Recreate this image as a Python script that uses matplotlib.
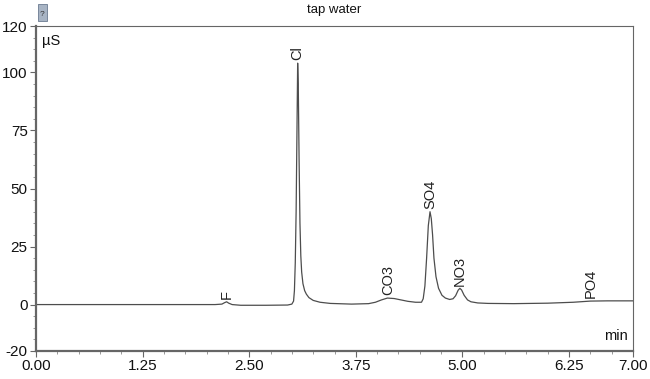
import matplotlib
matplotlib.use("Agg")
import matplotlib.pyplot as plt
from matplotlib.ticker import MultipleLocator, FixedLocator, FormatStrFormatter
from matplotlib.patches import Rectangle

plt.rcParams['font.family'] = ['Liberation Sans', 'DejaVu Sans']
plt.rcParams['axes.unicode_minus'] = False

# Chromatogram trace (time in min, signal in µS)
time_min = [0.00, 1.00, 2.10, 2.18, 2.21, 2.235, 2.26, 2.30, 2.40, 2.70, 2.95,
            3.00, 3.02, 3.03, 3.04, 3.05, 3.06, 3.068, 3.075, 3.085, 3.095, 3.105,
            3.115, 3.13, 3.15, 3.17, 3.20, 3.25, 3.33, 3.45, 3.70, 3.90, 3.98,
            4.05, 4.12, 4.20, 4.28, 4.36, 4.45, 4.52, 4.54, 4.56, 4.58, 4.60,
            4.62, 4.635, 4.65, 4.666, 4.69, 4.72, 4.76, 4.80, 4.85, 4.89, 4.92,
            4.95, 4.97, 4.99, 5.02, 5.06, 5.10, 5.18, 5.30, 5.60, 6.00, 6.30,
            6.50, 6.70, 7.00]
signal_uS = [0.0, 0.0, 0.0, 0.2, 0.8, 1.2, 0.6, 0.0, -0.3, -0.3, -0.2,
             0.2, 1.5, 6.0, 18.0, 40.0, 75.0, 104.0, 95.0, 62.0, 35.0, 21.0,
             14.0, 9.0, 6.0, 4.5, 3.0, 1.8, 1.0, 0.5, 0.2, 0.4, 1.0,
             2.0, 2.8, 2.6, 2.0, 1.4, 1.0, 1.0, 2.5, 8.0, 20.0, 34.0,
             40.0, 37.0, 30.0, 20.0, 12.0, 7.0, 4.0, 2.8, 2.2, 2.5, 3.8,
             6.2, 7.0, 6.3, 4.0, 2.0, 1.2, 0.7, 0.5, 0.4, 0.6, 1.0,
             1.5, 1.6, 1.6]

# Peak labels
peak_names = ["F", "Cl", "CO3", "SO4", "NO3", "PO4"]
peak_times = [2.235, 3.068, 4.13, 4.62, 4.97, 6.51]
peak_heights = [1.2, 104.0, 2.8, 40.0, 7.0, 1.5]

x_ticks = [0.00, 1.25, 2.50, 3.75, 5.00, 6.25, 7.00]
y_ticks = [-20, 0, 25, 50, 75, 100, 120]

fig = plt.figure(figsize=(6.5, 3.79), dpi=100)
ax = fig.add_axes([36/650, 28/379, 597/650, 325/379])

line_col = "#4d4d4d"
ax.plot(time_min, signal_uS, color=line_col, lw=0.9)

for name, t, h in zip(peak_names, peak_times, peak_heights):
    ax.annotate(name, xy=(t, h), xytext=(0, 2), textcoords="offset points",
                rotation=90, ha="center", va="bottom", fontsize=10.5, color="#222222")

ax.set_xlim(0, 7)
ax.set_ylim(-20, 120)
ax.xaxis.set_major_locator(FixedLocator(x_ticks))
ax.xaxis.set_major_formatter(FormatStrFormatter("%.2f"))
ax.xaxis.set_minor_locator(MultipleLocator(0.25))
ax.yaxis.set_major_locator(FixedLocator(y_ticks))
ax.yaxis.set_minor_locator(MultipleLocator(5))

ax.tick_params(axis="both", which="major", direction="out", length=4, width=0.8,
               color="#666666", labelsize=11, labelcolor="#111111", pad=2)
ax.tick_params(axis="both", which="minor", direction="out", length=2, width=0.6,
               color="#888888")

for s in ax.spines.values():
    s.set_color("#666666")
    s.set_linewidth(0.8)
ax.spines["left"].set_linewidth(1.6)
ax.spines["bottom"].set_linewidth(1.6)

ax.text(0.01, 0.975, "µS", transform=ax.transAxes, ha="left", va="top",
        fontsize=10.5, color="#111111")
ax.text(0.992, 0.025, "min", transform=ax.transAxes, ha="right", va="bottom",
        fontsize=10.5, color="#111111")

fig.text(334/650, 1 - 10/379, "tap water", ha="center", va="center",
         fontsize=9.5, color="#111111")

# small icon at top-left
fig.patches.append(Rectangle((38/650, 1 - 21/379), 9/650, 17/379,
                             transform=fig.transFigure, facecolor="#a8b4c4",
                             edgecolor="#6a7a90", lw=0.6))
fig.text(42.5/650, 1 - 14/379, "?", ha="center", va="center", fontsize=6,
         color="#333333")

fig.savefig("out.png", dpi=100)
